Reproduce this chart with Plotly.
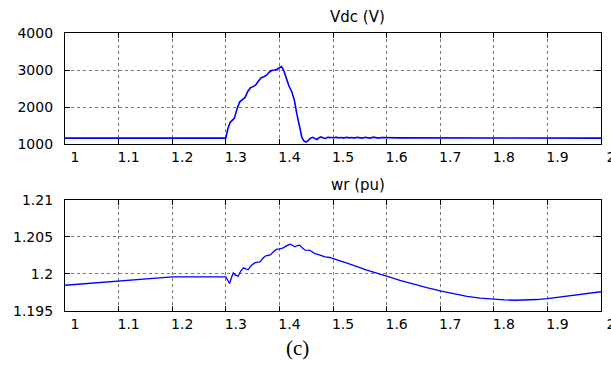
import plotly.graph_objects as go

# ---- data ----
t_vdc = [1.000, 1.300, 1.304, 1.308, 1.312, 1.316, 1.321, 1.326, 1.331, 1.336,
         1.341, 1.346, 1.351, 1.356, 1.361, 1.366, 1.371, 1.376, 1.381, 1.386,
         1.391, 1.396, 1.400, 1.404, 1.408, 1.413, 1.418, 1.423, 1.428, 1.433,
         1.438, 1.442, 1.446, 1.450, 1.454, 1.458, 1.462, 1.466, 1.470, 1.474,
         1.478, 1.482, 1.486, 1.490, 1.494, 1.498, 1.502, 1.506, 1.510, 1.515,
         1.520, 1.525, 1.530, 1.535, 1.540, 1.545, 1.550, 1.555, 1.560, 1.565,
         1.570, 1.575, 1.580, 1.585, 1.590, 1.600, 1.610, 1.620, 2.000]
vdc = [1160, 1160, 1420, 1580, 1640, 1700, 1950, 2140, 2200, 2260,
       2420, 2520, 2550, 2600, 2700, 2790, 2820, 2860, 2940, 2990,
       3000, 3020, 3060, 3090, 2990, 2760, 2560, 2420, 2180, 1780,
       1400, 1180, 1080, 1050, 1100, 1160, 1180, 1140, 1120, 1170,
       1190, 1160, 1150, 1180, 1175, 1155, 1170, 1185, 1165, 1175,
       1160, 1180, 1165, 1175, 1160, 1180, 1170, 1160, 1180, 1170,
       1160, 1185, 1175, 1160, 1175, 1165, 1175, 1165, 1160]

t_wr = [1.000, 1.100, 1.200, 1.300, 1.303, 1.307, 1.311, 1.314, 1.318, 1.323,
        1.328, 1.333, 1.338, 1.342, 1.348, 1.354, 1.359, 1.364, 1.369, 1.373,
        1.378, 1.383, 1.389, 1.395, 1.401, 1.407, 1.413, 1.420, 1.425, 1.429,
        1.434, 1.438, 1.443, 1.448, 1.457, 1.466, 1.476, 1.485, 1.494, 1.504,
        1.513, 1.525, 1.538, 1.550, 1.563, 1.580, 1.600, 1.625, 1.650, 1.675,
        1.700, 1.725, 1.750, 1.775, 1.800, 1.820, 1.840, 1.860, 1.880, 1.900,
        1.925, 1.950, 1.975, 2.000]
wr = [1.19848, 1.19910, 1.19962, 1.19962, 1.19920, 1.19871, 1.19960, 1.20015, 1.19985, 1.19970,
      1.20040, 1.20083, 1.20065, 1.20060, 1.20120, 1.20150, 1.20160, 1.20164, 1.20210, 1.20240,
      1.20250, 1.20258, 1.20300, 1.20336, 1.20340, 1.20354, 1.20380, 1.20404, 1.20385, 1.20367,
      1.20385, 1.20390, 1.20350, 1.20322, 1.20320, 1.20275, 1.20255, 1.20230, 1.20223, 1.20195,
      1.20178, 1.20150, 1.20120, 1.20085, 1.20051, 1.20010, 1.19970, 1.19915, 1.19862, 1.19815,
      1.19771, 1.19733, 1.19699, 1.19675, 1.19659, 1.19650, 1.19645, 1.19646, 1.19655, 1.19668,
      1.19690, 1.19713, 1.19735, 1.19760]

x_ticks = [1.0, 1.1, 1.2, 1.3, 1.4, 1.5, 1.6, 1.7, 1.8, 1.9, 2.0]
x_ticktext = ["1", "1.1", "1.2", "1.3", "1.4", "1.5", "1.6", "1.7", "1.8", "1.9", "2"]
vdc_ticks = [1000, 2000, 3000, 4000]
wr_ticks = [1.195, 1.2, 1.205, 1.21]
wr_ticktext = ["1.195", "1.2", "1.205", "1.21"]

title_top = "Vdc (V)"
title_bottom = "wr (pu)"
caption = "(c)"

# ---- figure ----
tick_font = dict(family="DejaVu Sans", size=14, color="black")

fig = go.Figure()
fig.add_trace(go.Scatter(x=t_vdc, y=vdc, mode="lines",
                         line=dict(color="#0000ff", width=1.6),
                         xaxis="x", yaxis="y", showlegend=False))
fig.add_trace(go.Scatter(x=t_wr, y=wr, mode="lines",
                         line=dict(color="#0000ff", width=1.3),
                         xaxis="x2", yaxis="y2", showlegend=False))

common = dict(showline=True, linecolor="black", linewidth=1.2, mirror="ticks",
              ticks="inside", ticklen=5, tickcolor="black", tickwidth=1,
              showgrid=True, gridcolor="#777777", gridwidth=1, griddash="dot",
              zeroline=False, tickfont=tick_font, automargin=False)

xcommon = dict(common, range=[1, 2], tickvals=x_ticks, ticktext=x_ticktext,
               domain=[0, 1], ticklabelshift=10, ticklabelstandoff=0,
               ticklabeloverflow="allow")

fig.update_layout(
    width=611, height=367,
    margin=dict(l=65, r=10, t=33, b=56),
    paper_bgcolor="white", plot_bgcolor="white",
    xaxis=dict(xcommon, anchor="y"),
    yaxis=dict(common, range=[1000, 4000], tickvals=vdc_ticks,
               domain=[0.6007, 1], anchor="x", ticklabelstandoff=8),
    xaxis2=dict(xcommon, anchor="y2"),
    yaxis2=dict(common, range=[1.195, 1.21], tickvals=wr_ticks, ticktext=wr_ticktext,
                domain=[0, 0.3993], anchor="x2", ticklabelstandoff=8),
    annotations=[
        dict(text=title_top, xref="paper", yref="paper", x=0.5466, y=1.0576,
             showarrow=False, xanchor="center", yanchor="middle",
             font=dict(family="DejaVu Sans", size=15, color="black")),
        dict(text=title_bottom, xref="paper", yref="paper", x=0.5466, y=0.4532,
             showarrow=False, xanchor="center", yanchor="middle",
             font=dict(family="DejaVu Sans", size=15, color="black")),
        dict(text=caption, xref="paper", yref="paper", x=0.4347, y=-0.133,
             showarrow=False, xanchor="center", yanchor="middle",
             font=dict(family="Liberation Serif", size=21, color="black")),
    ],
)

fig.write_html("out.html", config={"displayModeBar": False},
               post_script="document.body.style.margin='0';document.body.style.padding='0';")
